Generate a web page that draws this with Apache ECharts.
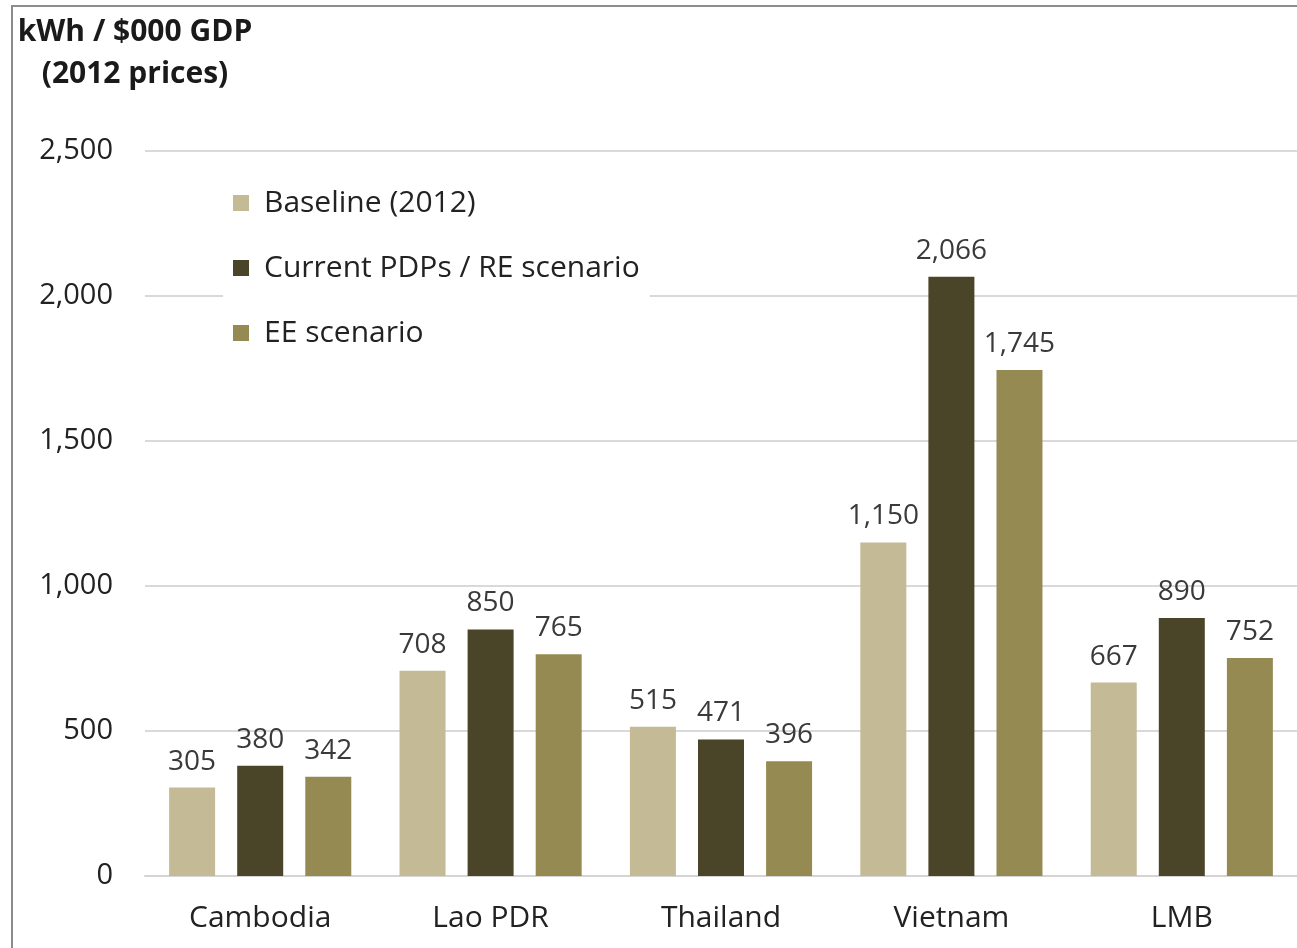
<!DOCTYPE html>
<html>
<head>
<meta charset="utf-8">
<script src="https://cdn.jsdelivr.net/npm/echarts@6/dist/echarts.min.js"></script>
<style>
  html, body { margin: 0; padding: 0; background: #fff; }
  #chart { width: 1297px; height: 948px; }
</style>
</head>
<body>
<div id="chart"></div>
<script>
// Electricity intensity by country and scenario
const categories = ['Cambodia', 'Lao PDR', 'Thailand', 'Vietnam', 'LMB'];
const seriesNames = ['Baseline (2012)', 'Current PDPs / RE scenario', 'EE scenario'];
const baseline = [305, 708, 515, 1150, 667];
const currentPDP = [380, 850, 471, 2066, 890];
const eeScenario = [342, 765, 396, 1745, 752];
const yTicks = [0, 500, 1000, 1500, 2000, 2500];

const colors = ['#c4ba95', '#4a4428', '#958b52'];
const FONT = '"Open Sans", Lato, sans-serif';
const fmt = v => Number(v).toLocaleString('en-US');

const chart = echarts.init(document.getElementById('chart'));

function barSeries(name, data, color) {
  return {
    name: name,
    type: 'bar',
    data: data,
    barWidth: 46,
    barGap: '48%',
    itemStyle: { color: color },
    label: {
      show: true,
      position: 'top',
      distance: 12,
      formatter: p => fmt(p.value),
      fontFamily: FONT,
      fontSize: 28,
      color: '#3a3a3a'
    }
  };
}

chart.setOption({
  animation: false,
  backgroundColor: '#fff',
  grid: { left: 145, width: 1154, top: 151, bottom: 72, containLabel: false },
  legend: {
    orient: 'vertical',
    left: 223,
    top: 174,
    padding: [14, 10, 14, 10],
    backgroundColor: '#fff',
    itemWidth: 16,
    itemHeight: 16,
    itemGap: 35,
    icon: 'rect',
    data: seriesNames,
    textStyle: {
      fontFamily: FONT,
      fontSize: 30,
      lineHeight: 30,
      color: '#222',
      padding: [0, 0, 0, 10]
    }
  },
  xAxis: {
    type: 'category',
    data: categories,
    axisLine: { lineStyle: { color: '#d4d4d4', width: 2 } },
    axisTick: { show: false },
    axisLabel: {
      fontFamily: FONT,
      fontSize: 30,
      color: '#222',
      margin: 27
    }
  },
  yAxis: {
    type: 'value',
    min: yTicks[0],
    max: yTicks[yTicks.length - 1],
    interval: yTicks[1] - yTicks[0],
    axisLine: { show: false },
    axisTick: { show: false },
    splitLine: { lineStyle: { color: '#d9d9d9', width: 2 } },
    axisLabel: {
      fontFamily: FONT,
      fontSize: 29,
      color: '#222',
      margin: 32,
      formatter: v => fmt(v)
    }
  },
  series: [
    barSeries(seriesNames[0], baseline, colors[0]),
    barSeries(seriesNames[1], currentPDP, colors[1]),
    barSeries(seriesNames[2], eeScenario, colors[2])
  ],
  graphic: [
    {
      type: 'rect',
      silent: true,
      shape: { x: 12, y: 6, width: 1400, height: 1100 },
      style: { fill: 'none', stroke: '#8c8c8c', lineWidth: 2 }
    },
    {
      type: 'text',
      silent: true,
      style: {
        x: 135,
        y: 53,
        text: 'kWh / $000 GDP\n(2012 prices)',
        textAlign: 'center',
        textVerticalAlign: 'middle',
        fontFamily: FONT,
        fontWeight: 'bold',
        fontSize: 30,
        lineHeight: 42,
        fill: '#1a1a1a'
      }
    }
  ]
});
</script>
</body>
</html>
